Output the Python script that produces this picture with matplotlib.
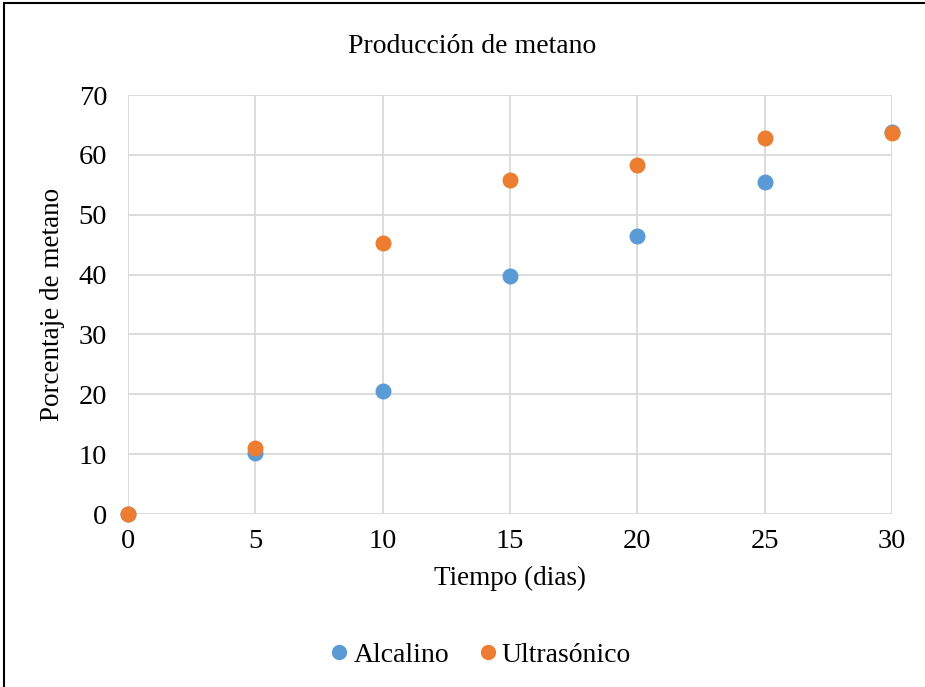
import matplotlib.pyplot as plt
from matplotlib.patches import Rectangle

tiempo = [0, 5, 10, 15, 20, 25, 30]
alcalino = [0, 10.2, 20.5, 39.7, 46.4, 55.4, 63.8]
ultrasonico = [0, 11.0, 45.2, 55.8, 58.3, 62.8, 63.6]

plt.rcParams['font.family'] = ['Liberation Serif', 'DejaVu Serif']

fig = plt.figure(figsize=(9.25, 6.87), dpi=100)
ax = fig.add_axes([0.1384, 0.2518, 0.8259, 0.6099])

ax.plot(tiempo, alcalino, 'o', color='#5B9BD5', markersize=10.5, label='Alcalino',
        zorder=3, clip_on=False)
ax.plot(tiempo, ultrasonico, 'o', color='#ED7D31', markersize=10.5, label='Ultrasónico',
        zorder=4, clip_on=False)

ax.set_xlim(0, 30)
ax.set_ylim(0, 70)
ax.set_xticks(range(0, 31, 5))
ax.set_yticks(range(0, 71, 10))
ax.grid(True, color='#d9d9d9', linewidth=1.3)
ax.set_axisbelow(True)
for s in ax.spines.values():
    s.set_visible(False)
ax.tick_params(length=0, labelsize=20.5)
ax.tick_params(axis='x', pad=11)
ax.tick_params(axis='y', pad=15)

ax.set_xlabel('Tiempo (dias)', fontsize=19.5, labelpad=8)
ax.set_ylabel('Porcentaje de metano', fontsize=19.5, labelpad=10)
fig.text(0.510, 0.932, 'Producción de metano', ha='center', va='center', fontsize=20)

fig.legend(loc='center', bbox_to_anchor=(0.517, 0.046), ncol=2, frameon=False,
           fontsize=20, handlelength=1.0, handletextpad=0.0, columnspacing=0.9,
           markerscale=0.95)

fig.patches.append(Rectangle((0.004, -0.1), 1.2, 1.095, transform=fig.transFigure,
                             fill=False, edgecolor='black', linewidth=1.5))

fig.savefig('out.png', dpi=100)
